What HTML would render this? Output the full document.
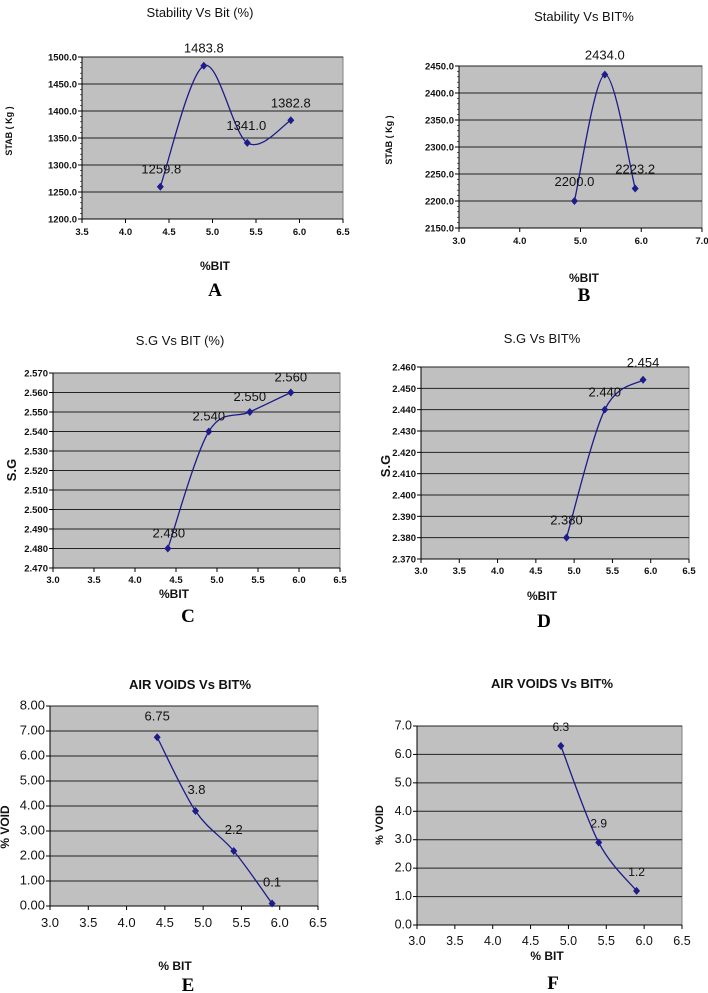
<!DOCTYPE html>
<html><head><meta charset="utf-8"><style>
html,body{margin:0;padding:0;background:#fff;}
svg{display:block;font-family:"Liberation Sans",sans-serif;}
</style></head><body>
<svg id="fig" width="708" height="993" viewBox="0 0 708 993"></svg>
<script>
// ---- data ----
const bitA = [4.4, 4.9, 5.4, 5.9];
const stabA = [1259.8, 1483.8, 1341.0, 1382.8];
const labelsA = ["1259.8", "1483.8", "1341.0", "1382.8"];
const yTicksA = [1200, 1250, 1300, 1350, 1400, 1450, 1500];
const xTicksA = [3.5, 4.0, 4.5, 5.0, 5.5, 6.0, 6.5];

const bitB = [4.9, 5.4, 5.9];
const stabB = [2200.0, 2434.0, 2223.2];
const labelsB = ["2200.0", "2434.0", "2223.2"];
const yTicksB = [2150, 2200, 2250, 2300, 2350, 2400, 2450];
const xTicksB = [3.0, 4.0, 5.0, 6.0, 7.0];

const bitC = [4.4, 4.9, 5.4, 5.9];
const sgC = [2.480, 2.540, 2.550, 2.560];
const labelsC = ["2.480", "2.540", "2.550", "2.560"];
const yTicksC = [2.47, 2.48, 2.49, 2.50, 2.51, 2.52, 2.53, 2.54, 2.55, 2.56, 2.57];
const xTicksC = [3.0, 3.5, 4.0, 4.5, 5.0, 5.5, 6.0, 6.5];

const bitD = [4.9, 5.4, 5.9];
const sgD = [2.380, 2.440, 2.454];
const labelsD = ["2.380", "2.440", "2.454"];
const yTicksD = [2.37, 2.38, 2.39, 2.40, 2.41, 2.42, 2.43, 2.44, 2.45, 2.46];
const xTicksD = [3.0, 3.5, 4.0, 4.5, 5.0, 5.5, 6.0, 6.5];

const bitE = [4.4, 4.9, 5.4, 5.9];
const voidE = [6.75, 3.8, 2.2, 0.1];
const labelsE = ["6.75", "3.8", "2.2", "0.1"];
const yTicksE = [0, 1, 2, 3, 4, 5, 6, 7, 8];
const xTicksE = [3.0, 3.5, 4.0, 4.5, 5.0, 5.5, 6.0, 6.5];

const bitF = [4.9, 5.4, 5.9];
const voidF = [6.3, 2.9, 1.2];
const labelsF = ["6.3", "2.9", "1.2"];
const yTicksF = [0, 1, 2, 3, 4, 5, 6, 7];
const xTicksF = [3.0, 3.5, 4.0, 4.5, 5.0, 5.5, 6.0, 6.5];

const NS = "http://www.w3.org/2000/svg";
const svg = document.getElementById("fig");
function mk(tag, attrs, parent, text) {
  const e = document.createElementNS(NS, tag);
  for (const k in attrs) e.setAttribute(k, attrs[k]);
  if (text !== undefined) e.textContent = text;
  (parent || svg).appendChild(e);
  return e;
}

function drawPanel(p) {
  const g = mk("g", {});
  
  
  const xs = v => p.x0 + (v - p.xmin) / (p.xmax - p.xmin) * (p.x1 - p.x0);
  const ys = v => p.y1 - (v - p.ymin) / (p.ymax - p.ymin) * (p.y1 - p.y0);
  const bg = mk("rect", {x: p.x0, y: p.y0, width: p.x1 - p.x0, height: p.y1 - p.y0, fill: "#c0c0c0", stroke: "#808080", "stroke-width": 1}, g);
  
  
  p.yTicks.forEach(t => {
    const y = ys(t);
    if (t !== p.ymin) {
      const gl = mk("line", {x1: p.x0, x2: p.x1, y1: y, y2: y, stroke: "#222", "stroke-width": 1}, g);
      
      
    }
    mk("line", {x1: p.x0 - 4, x2: p.x0, y1: y, y2: y, stroke: "#000"}, g);
    const tl = mk("text", {x: p.x0 - 5, y: y + 3.5, "text-anchor": "end", "font-size": p.tfs, "font-weight": p.tbold ? "bold" : "normal", fill: "#111"}, g, t.toFixed(p.ydec));
    
    
  });
  if (p.minor) {
    const step = (p.yTicks[1] - p.yTicks[0]) / 5;
    for (let v = p.ymin; v <= p.ymax + 1e-9; v += step) {
      mk("line", {x1: p.x0 - 2, x2: p.x0, y1: ys(v), y2: ys(v), stroke: "#000", "stroke-width": 0.6}, g);
    }
  }
  mk("line", {x1: p.x0, x2: p.x0, y1: p.y0, y2: p.y1, stroke: "#000"}, g);
  mk("line", {x1: p.x0, x2: p.x1, y1: p.y1, y2: p.y1, stroke: "#000"}, g);
  p.xTicks.forEach(t => {
    const x = xs(t);
    mk("line", {x1: x, x2: x, y1: p.y1, y2: p.y1 + 4, stroke: "#000"}, g);
    const tl = mk("text", {x: x, y: p.y1 + p.xtOff, "text-anchor": "middle", "font-size": p.tfs, "font-weight": p.tbold ? "bold" : "normal", fill: "#111"}, g, t.toFixed(1));
    
    
  });
  const pts = p.xv.map((v, i) => [xs(v), ys(p.yv[i])]);
  let d = "M" + pts[0][0] + "," + pts[0][1];
  for (let i = 0; i < pts.length - 1; i++) {
    const a = pts[Math.max(i - 1, 0)], b = pts[i], c = pts[i + 1], e = pts[Math.min(i + 2, pts.length - 1)];
    const c1 = [b[0] + (c[0] - a[0]) / 6, b[1] + (c[1] - a[1]) / 6];
    const c2 = [c[0] - (e[0] - b[0]) / 6, c[1] - (e[1] - b[1]) / 6];
    d += " C" + c1[0] + "," + c1[1] + " " + c2[0] + "," + c2[1] + " " + c[0] + "," + c[1];
  }
  const ln = mk("path", {d: d, fill: "none", stroke: "#1c1c8a", "stroke-width": 1.3}, g);
  
  
  pts.forEach((pt, i) => {
    const m = mk("polygon", {points: `${pt[0]},${pt[1]-4} ${pt[0]+3.5},${pt[1]} ${pt[0]},${pt[1]+4} ${pt[0]-3.5},${pt[1]}`, fill: "#1c1c8a"}, g);
    
    
    const dx = p.lblDxs ? p.lblDxs[i] : 0;
    const lb = mk("text", {x: pt[0] + dx, y: pt[1] - p.lblDy, "text-anchor": "middle", "font-size": p.lfs, fill: "#111"}, g, p.labels[i]);
    
    
  });
  const tt = mk("text", {x: p.title[1], y: p.title[2], "text-anchor": "middle", "font-size": p.title[3], "font-weight": p.title[4] ? "bold" : "normal", fill: "#111"}, g, p.title[0]);
  
  
  const yl = mk("text", {x: 0, y: 0, transform: `translate(${p.ylab[1]},${p.ylab[2]}) rotate(-90)`, "text-anchor": "middle", "font-size": p.ylab[3], "font-weight": "bold", fill: "#111"}, g, p.ylab[0]);
  
  
  const xl = mk("text", {x: p.xlab[1], y: p.xlab[2], "text-anchor": "middle", "font-size": 12, "font-weight": "bold", fill: "#111"}, g, p.xlab[0]);
  
  
  const pl = mk("text", {x: p.letter[1], y: p.letter[2], "text-anchor": "middle", "font-size": 19, "font-weight": "bold", "font-family": "Liberation Serif, serif", fill: "#000"}, g, p.letter[0]);
  
  
}

drawPanel({name: "panel-a", x0: 82, x1: 343, y0: 57, y1: 219, xmin: 3.5, xmax: 6.5, ymin: 1200, ymax: 1500, ydec: 1, minor: true,
  yTicks: yTicksA, xTicks: xTicksA, xv: bitA, yv: stabA, labels: labelsA, tfs: 9.5, tbold: true, xtOff: 16, lfs: 13, lblDxs: [1, 0, -1, 0], lblDy: 13,
  title: ["Stability Vs Bit (%)", 200, 17, 13, false], ylab: ["STAB ( Kg )", 12, 131, 9], xlab: ["%BIT", 215, 270], letter: ["A", 215, 296]});
drawPanel({name: "panel-b", x0: 459, x1: 702, y0: 66, y1: 228, xmin: 3.0, xmax: 7.0, ymin: 2150, ymax: 2450, ydec: 1, minor: true,
  yTicks: yTicksB, xTicks: xTicksB, xv: bitB, yv: stabB, labels: labelsB, tfs: 9.5, tbold: true, xtOff: 16, lfs: 13, lblDy: 15,
  title: ["Stability Vs BIT%", 584, 21, 13, false], ylab: ["STAB ( Kg )", 392, 140, 9], xlab: ["%BIT", 584, 282], letter: ["B", 584, 301]});
drawPanel({name: "panel-c", x0: 53, x1: 340, y0: 373, y1: 568, xmin: 3.0, xmax: 6.5, ymin: 2.47, ymax: 2.57, ydec: 3, minor: false,
  yTicks: yTicksC, xTicks: xTicksC, xv: bitC, yv: sgC, labels: labelsC, tfs: 9.5, tbold: true, xtOff: 15, lfs: 13, lblDxs: [1, 0, 0, 0], lblDy: 11,
  title: ["S.G Vs BIT (%)", 180, 345, 13, false], ylab: ["S.G", 16, 470, 13], xlab: ["%BIT", 174, 598], letter: ["C", 188, 622]});
drawPanel({name: "panel-d", x0: 421, x1: 689, y0: 367, y1: 559, xmin: 3.0, xmax: 6.5, ymin: 2.37, ymax: 2.46, ydec: 3, minor: false,
  yTicks: yTicksD, xTicks: xTicksD, xv: bitD, yv: sgD, labels: labelsD, tfs: 9.5, tbold: true, xtOff: 15, lfs: 13, lblDy: 13,
  title: ["S.G Vs BIT%", 542, 343, 13, false], ylab: ["S.G", 390, 466, 13], xlab: ["%BIT", 542, 600], letter: ["D", 544, 627]});
drawPanel({name: "panel-e", x0: 50, x1: 318, y0: 706, y1: 906, xmin: 3.0, xmax: 6.5, ymin: 0, ymax: 8, ydec: 2, minor: false,
  yTicks: yTicksE, xTicks: xTicksE, xv: bitE, yv: voidE, labels: labelsE, tfs: 13, tbold: false, xtOff: 21, lfs: 13, lblDxs: [0, 1, 0, 0], lblDy: 17,
  title: ["AIR VOIDS Vs BIT%", 190, 689, 13, true], ylab: ["% VOID", 9, 827, 12], xlab: ["% BIT", 175, 970], letter: ["E", 188, 991]});
drawPanel({name: "panel-f", x0: 417, x1: 682, y0: 726, y1: 925, xmin: 3.0, xmax: 6.5, ymin: 0, ymax: 7, ydec: 1, minor: false,
  yTicks: yTicksF, xTicks: xTicksF, xv: bitF, yv: voidF, labels: labelsF, tfs: 12.5, tbold: false, xtOff: 20, lfs: 12, lblDy: 15,
  title: ["AIR VOIDS Vs BIT%", 552, 688, 13, true], ylab: ["% VOID", 383, 825, 11], xlab: ["% BIT", 547, 960], letter: ["F", 553, 989]});
</script>
</body></html>
